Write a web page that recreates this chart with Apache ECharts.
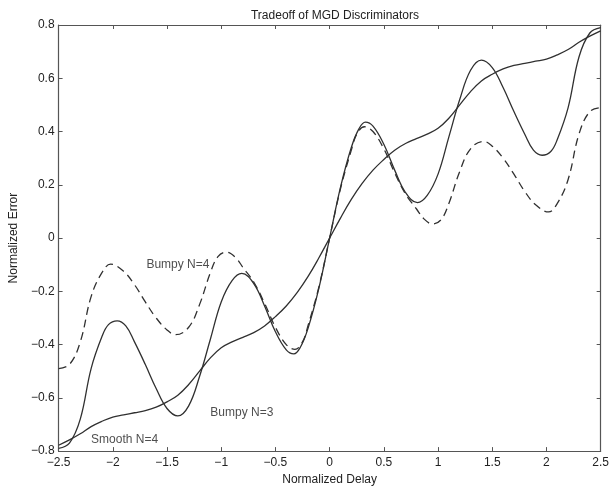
<!DOCTYPE html>
<html>
<head>
<meta charset="utf-8">
<script src="https://cdn.jsdelivr.net/npm/echarts@6/dist/echarts.min.js"></script>
<style>html,body{margin:0;padding:0;background:#fff}#c{width:612px;height:491px}</style>
</head>
<body>
<div id="c"></div>
<script>
var smoothDelay = [-2.5,-2.4,-2.3,-2.2,-2.1,-2.0,-1.9,-1.8,-1.7,-1.6,-1.5,-1.4,-1.3,-1.2,-1.1,-1.0,-0.9,-0.8,-0.7,-0.6,-0.5,-0.4,-0.3,-0.2,-0.1,0,
  0.1,0.2,0.3,0.4,0.5,0.6,0.7,0.8,0.9,1.0,1.1,1.2,1.3,1.4,1.5,1.6,1.7,1.8,1.9,2.0,2.1,2.2,2.3,2.4,2.5];
var smoothN4 = [-0.778,-0.758,-0.735,-0.708,-0.688,-0.672,-0.664,-0.656,-0.648,-0.635,-0.615,-0.59,-0.55,-0.50,-0.45,-0.412,-0.39,-0.373,-0.355,-0.33,-0.295,-0.255,-0.205,-0.145,-0.075,0,
  0.075,0.145,0.205,0.255,0.295,0.33,0.355,0.373,0.39,0.412,0.45,0.50,0.55,0.59,0.615,0.635,0.648,0.656,0.664,0.672,0.688,0.708,0.735,0.758,0.778];
var n3Delay = [-2.5,-2.4,-2.3,-2.2,-2.1,-2.04,-1.96,-1.88,-1.8,-1.7,-1.6,-1.5,-1.4,-1.3,-1.2,-1.1,-1.0,-0.9,-0.81,-0.7,-0.6,-0.5,-0.4,-0.33,-0.27,-0.2,-0.1,0,
  0.1,0.2,0.27,0.33,0.4,0.5,0.6,0.7,0.81,0.9,1.0,1.1,1.2,1.3,1.4,1.5,1.6,1.7,1.8,1.88,1.96,2.04,2.1,2.2,2.3,2.4,2.5];
var bumpyN3 = [-0.79,-0.77,-0.68,-0.49,-0.37,-0.325,-0.311,-0.33,-0.39,-0.475,-0.565,-0.64,-0.668,-0.63,-0.52,-0.38,-0.24,-0.16,-0.133,-0.171,-0.255,-0.352,-0.42,-0.435,-0.41,-0.34,-0.19,0,
  0.19,0.34,0.41,0.435,0.42,0.352,0.255,0.171,0.133,0.16,0.24,0.38,0.52,0.63,0.668,0.64,0.565,0.475,0.39,0.33,0.311,0.325,0.37,0.49,0.68,0.77,0.79];
var n4Delay = [-2.5,-2.4,-2.3,-2.2,-2.1,-2.02,-1.9,-1.8,-1.7,-1.6,-1.5,-1.42,-1.3,-1.2,-1.1,-1.03,-0.95,-0.87,-0.8,-0.7,-0.6,-0.5,-0.4,-0.32,-0.25,-0.2,-0.1,0,
  0.1,0.2,0.25,0.32,0.4,0.5,0.6,0.7,0.8,0.87,0.95,1.03,1.1,1.2,1.3,1.42,1.5,1.6,1.7,1.8,1.9,2.02,2.1,2.2,2.3,2.4,2.5];
var bumpyN4 = [-0.49,-0.475,-0.39,-0.22,-0.13,-0.098,-0.125,-0.175,-0.24,-0.30,-0.345,-0.363,-0.335,-0.25,-0.13,-0.07,-0.053,-0.072,-0.11,-0.165,-0.245,-0.335,-0.40,-0.418,-0.39,-0.33,-0.185,0,
  0.185,0.33,0.39,0.418,0.40,0.335,0.245,0.165,0.11,0.072,0.053,0.07,0.13,0.25,0.335,0.363,0.345,0.30,0.24,0.175,0.125,0.098,0.13,0.22,0.39,0.475,0.49];
var curveLabels = ['Bumpy N=4','Bumpy N=3','Smooth N=4'];
var labelDelay = [-1.69,-1.10,-2.20];
var labelError = [-0.10,-0.657,-0.757];
var titleText = 'Tradeoff of MGD Discriminators';
var xName = 'Normalized Delay';
var yName = 'Normalized Error';

function pairs(xs, ys){ return xs.map(function(x,i){ return [x, ys[i]]; }); }
function fmt(v){ return (Math.round(v*10)/10).toString().replace('-', '\u2212'); }

var font = 'Liberation Sans, Arial, Helvetica, sans-serif';
var lineCol = '#303030';
var axisCol = '#555';
var chart = echarts.init(document.getElementById('c'), null, {renderer:'canvas'});
var baseAxisX = {
  type:'value', min:-2.5, max:2.5, interval:0.5,
  axisLine:{show:true, onZero:false, lineStyle:{color:axisCol, width:1.2}},
  axisTick:{show:true, inside:true, length:4, lineStyle:{color:axisCol}},
  splitLine:{show:false}
};
var baseAxisY = {
  type:'value', min:-0.8, max:0.8, interval:0.2,
  axisLine:{show:true, onZero:false, lineStyle:{color:axisCol, width:1.2}},
  axisTick:{show:true, inside:true, length:4, lineStyle:{color:axisCol}},
  splitLine:{show:false}
};
chart.setOption({
  animation:false,
  backgroundColor:'#fff',
  title:{text:titleText, left:330, top:5, textAlign:'center',
    textStyle:{fontFamily:font, fontSize:12, fontWeight:'normal', color:'#222'}},
  grid:{left:54, right:9, top:25, bottom:38, containLabel:false},
  xAxis:[
    Object.assign({}, baseAxisX, {position:'bottom', name:xName, nameLocation:'middle', nameGap:21,
      nameTextStyle:{fontFamily:font, fontSize:12, color:'#222'},
      axisLabel:{fontFamily:font, fontSize:12, color:'#222', margin:6, formatter:fmt, showMinLabel:true, showMaxLabel:true}}),
    Object.assign({}, baseAxisX, {position:'top', axisLabel:{show:false}})
  ],
  yAxis:[
    Object.assign({}, baseAxisY, {position:'left', name:yName, nameLocation:'middle', nameGap:36,
      nameTextStyle:{fontFamily:font, fontSize:12, color:'#222'},
      axisLabel:{fontFamily:font, fontSize:12, color:'#222', margin:4, formatter:fmt, showMinLabel:true, showMaxLabel:true}}),
    Object.assign({}, baseAxisY, {position:'right', axisLabel:{show:false}})
  ],
  series:[
    {type:'line', name:'Smooth N=4', data:pairs(smoothDelay, smoothN4), smooth:0.4, symbol:'none',
      lineStyle:{color:lineCol, width:1.3}},
    {type:'line', name:'Bumpy N=3', data:pairs(n3Delay, bumpyN3), smooth:0.4, symbol:'none',
      lineStyle:{color:lineCol, width:1.3}},
    {type:'line', name:'Bumpy N=4', data:pairs(n4Delay, bumpyN4), smooth:0.4, symbol:'none',
      lineStyle:{color:lineCol, width:1.3, type:[8,5]}},
    {type:'scatter', symbolSize:0, silent:true,
      data:curveLabels.map(function(t,i){ return {value:[labelDelay[i], labelError[i]], name:t}; }),
      label:{show:true, position:'right', distance:0, formatter:'{b}',
        fontFamily:font, fontSize:12, color:'#222'}}
  ]
});
</script>
</body>
</html>
